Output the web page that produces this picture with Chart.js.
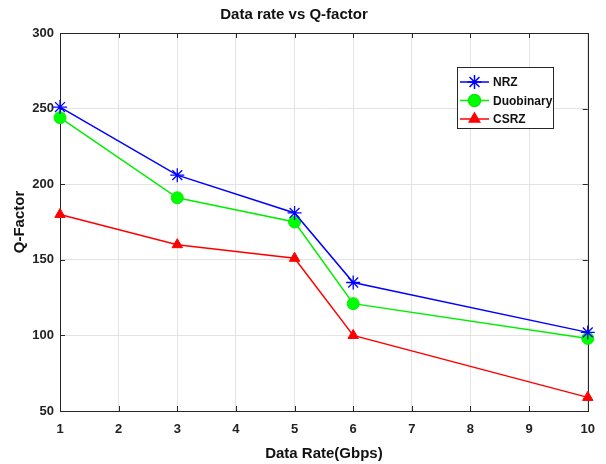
<!DOCTYPE html>
<html><head><meta charset="utf-8">
<script src="https://cdn.jsdelivr.net/npm/chart.js@4.4.0/dist/chart.umd.min.js"></script>
<style>html,body{margin:0;padding:0;background:#fff}</style>
</head><body>
<canvas id="c" width="606" height="464"></canvas>
<script>
const dataRates = [1, 3, 5, 6, 10];
const nrz = [251, 206, 181, 135, 102];
const duobinary = [244, 191, 175, 121, 98];
const csrz = [180, 160, 151, 100, 59];
const xTicks = [1, 2, 3, 4, 5, 6, 7, 8, 9, 10];
const yTicks = [50, 100, 150, 200, 250, 300];
const seriesNames = ['NRZ', 'Duobinary', 'CSRZ'];

const FONT = '"Liberation Sans", Arial, sans-serif';
const AXIS = '#262626';

function pts(vals){ return dataRates.map((x,i)=>({x:x,y:vals[i]})); }

const ds = [
  {label:seriesNames[0], data:pts(nrz), borderColor:'#0000ff', backgroundColor:'#0000ff', pointStyle:'star', pointRadius:7, pointBorderWidth:1.3, borderWidth:1.5, clip:false},
  {label:seriesNames[1], data:pts(duobinary), borderColor:'#00ee00', backgroundColor:'#00ff00', pointStyle:'circle', pointRadius:6, pointBorderWidth:1, borderWidth:1.5, clip:false},
  {label:seriesNames[2], data:pts(csrz), borderColor:'#ff0000', backgroundColor:'#ff0000', pointStyle:'triangle', pointRadius:6, pointBorderWidth:1, borderWidth:1.5, clip:false}
];

const boxPlugin = {
  id:'box',
  beforeDatasetsDraw(chart){
    const ctx = chart.ctx, a = chart.chartArea;
    const xs = chart.scales.x, ys = chart.scales.y;
    ctx.save();
    ctx.strokeStyle = AXIS; ctx.lineWidth = 1;
    ctx.strokeRect(Math.round(a.left)+0.5, Math.round(a.top)+0.5, Math.round(a.right-a.left), Math.round(a.bottom-a.top));
    ctx.beginPath();
    xTicks.forEach(v=>{ const p=Math.round(xs.getPixelForValue(v))+0.5;
      ctx.moveTo(p,a.bottom); ctx.lineTo(p,a.bottom-5);
      ctx.moveTo(p,a.top); ctx.lineTo(p,a.top+5); });
    yTicks.forEach(v=>{ const p=Math.round(ys.getPixelForValue(v))+0.5;
      ctx.moveTo(a.left,p); ctx.lineTo(a.left+5,p);
      ctx.moveTo(a.right,p); ctx.lineTo(a.right-5,p); });
    ctx.stroke();
    ctx.restore();
  },
  afterDraw(chart){
    const ctx = chart.ctx;
    ctx.save();
    const lx=457, ly=67, lw=96, lh=61;
    ctx.fillStyle='#fff'; ctx.fillRect(lx,ly,lw,lh);
    ctx.strokeStyle=AXIS; ctx.lineWidth=1; ctx.strokeRect(lx+0.5,ly+0.5,lw,lh);
    ctx.font = 'bold 12px ' + FONT; ctx.textBaseline='middle'; ctx.textAlign='left';
    ds.forEach((d,i)=>{
      const y = 82 + i*18.5;
      ctx.strokeStyle=d.borderColor; ctx.lineWidth=1.5;
      ctx.beginPath(); ctx.moveTo(460,y); ctx.lineTo(489,y); ctx.stroke();
      ctx.fillStyle=d.backgroundColor; ctx.strokeStyle=d.borderColor;
      Chart.helpers.drawPoint(ctx,{pointStyle:d.pointStyle, radius:d.pointRadius, borderWidth:d.pointBorderWidth, rotation:0}, 474.5, y);
      ctx.fillStyle='#111';
      ctx.fillText(d.label, 493, y+1);
    });
    ctx.restore();
  }
};

new Chart(document.getElementById('c'), {
  type:'line',
  data:{datasets:ds},
  options:{
    responsive:false, animation:false,
    layout:{padding:{left:0,right:18,top:0,bottom:0}},
    plugins:{
      legend:{display:false},
      tooltip:{enabled:false},
      title:{display:true, text:'Data rate vs Q-factor', color:'#111',
        font:{family:FONT, size:15, weight:'bold'}, padding:{top:6,bottom:9}}
    },
    scales:{
      x:{type:'linear', min:1, max:10,
        afterBuildTicks(s){ s.ticks = xTicks.map(v=>({value:v})); },
        afterFit(s){ s.height = 53; },
        ticks:{color:'#222', font:{family:FONT,size:13,weight:'bold'}, padding:11},
        grid:{color:'#e3e3e3', drawTicks:false, lineWidth:1},
        border:{color:AXIS},
        title:{display:true, text:'Data Rate(Gbps)', color:'#111', font:{family:FONT,size:15,weight:'bold'}, padding:{top:2,bottom:1}}
      },
      y:{min:50, max:300,
        afterBuildTicks(s){ s.ticks = yTicks.map(v=>({value:v})); },
        afterFit(s){ s.width = 60; },
        ticks:{color:'#222', font:{family:FONT,size:13,weight:'bold'}, padding:6},
        grid:{color:'#e3e3e3', drawTicks:false, lineWidth:1},
        border:{color:AXIS},
        title:{display:true, text:'Q-Factor', color:'#111', font:{family:FONT,size:15,weight:'bold'}, padding:{top:11,bottom:4}}
      }
    }
  },
  plugins:[boxPlugin]
});
</script>
</body></html>
